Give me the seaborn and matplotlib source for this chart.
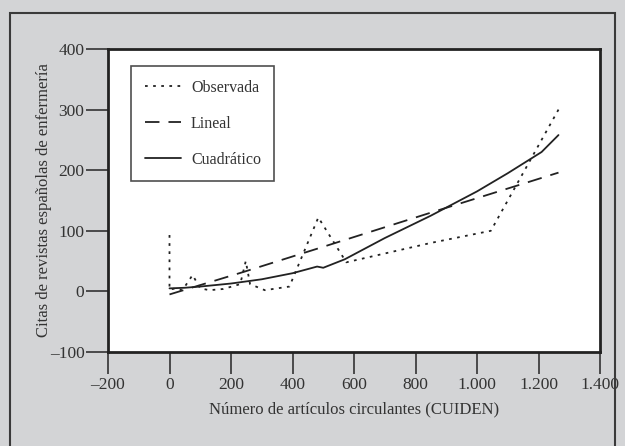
import matplotlib
matplotlib.use('Agg')
import matplotlib.pyplot as plt
import matplotlib.ticker as mticker
from matplotlib.patches import Rectangle
import seaborn as sns
import pandas as pd

# valores
x_obs = [0, 0, 20, 40, 50, 75, 100, 130, 175, 230, 248, 262, 310, 390, 484, 575, 850, 1045, 1265]
y_obs = [93, 3, 5, 2, 8, 27, 5, 2, 4, 12, 50, 12, 2, 8, 122, 48, 80, 100, 300]

x_lin = [0, 240, 490, 850, 1265]
y_lin = [-5, 32, 72, 130, 196]

x_cuad = [0, 50, 100, 200, 300, 400, 480, 500, 570, 700, 850, 1000, 1100, 1210, 1265]
y_cuad = [5, 6, 8, 13, 20, 30, 41, 39, 53, 88, 125, 165, 195, 230, 258]

xticks = [-200, 0, 200, 400, 600, 800, 1000, 1200, 1400]
yticks = [-100, 0, 100, 200, 300, 400]

sns.set_theme(style='white')
plt.rcParams['font.family'] = ['Liberation Serif', 'DejaVu Serif']

fig = plt.figure(figsize=(6.25, 4.46), dpi=100)
fig.patch.set_facecolor('#d3d4d6')
fig.patches.append(Rectangle((10/625, -0.02), 605/625, 1 - 13/446 + 0.02,
                             transform=fig.transFigure, fill=False,
                             edgecolor='#3a3a3a', linewidth=1.5))
ax = fig.add_axes([108/625, 1 - 352/446, 492/625, 303/446])
ax.set_facecolor('white')

df_obs = pd.DataFrame({'x': x_obs, 'y': y_obs})
df_lin = pd.DataFrame({'x': x_lin, 'y': y_lin})
df_cuad = pd.DataFrame({'x': x_cuad, 'y': y_cuad})

sns.lineplot(data=df_obs, x='x', y='y', ax=ax, sort=False, estimator=None,
             color='#222222', linewidth=1.3, label='Observada')
sns.lineplot(data=df_lin, x='x', y='y', ax=ax, sort=False, estimator=None,
             color='#222222', linewidth=1.3, label='Lineal')
sns.lineplot(data=df_cuad, x='x', y='y', ax=ax, sort=False, estimator=None,
             color='#222222', linewidth=1.3, label='Cuadrático')
ax.lines[0].set_dashes([1.5, 3.0])
ax.lines[1].set_dashes([8, 5])

ax.set_xlim(-200, 1400)
ax.set_ylim(-100, 400)
ax.set_xticks(xticks)
ax.set_yticks(yticks)

def fmt(v, pos):
    v = int(round(v))
    s = '{:,}'.format(abs(v)).replace(',', '.')
    return ('–' + s) if v < 0 else s

ax.xaxis.set_major_formatter(mticker.FuncFormatter(fmt))
ax.yaxis.set_major_formatter(mticker.FuncFormatter(fmt))
ax.tick_params(axis='both', direction='out', length=16, width=1.2, color='#333333',
               labelsize=12.5, labelcolor='#333333', pad=2,
               bottom=True, left=True)
ax.tick_params(axis='y', pad=1)
for side in ['top', 'right', 'bottom', 'left']:
    ax.spines[side].set_color('#222222')
    ax.spines[side].set_linewidth(2)

ax.set_xlabel('Número de artículos circulantes (CUIDEN)', fontsize=12, color='#333333', labelpad=6)
ax.set_ylabel('Citas de revistas españolas de enfermería', fontsize=12, color='#333333')
ax.yaxis.set_label_coords(-56/492, 0.5)

leg = ax.legend(loc='upper left', bbox_to_anchor=(23/492, 1 - 17/303), frameon=True,
                fancybox=False, edgecolor='#222222', fontsize=11.5, handlelength=2.3,
                labelspacing=1.25, borderpad=0.85, handletextpad=0.6, borderaxespad=0)
leg.get_frame().set_linewidth(1.2)
for t in leg.get_texts():
    t.set_color('#333333')

fig.savefig('out.png', dpi=100, facecolor=fig.get_facecolor())
